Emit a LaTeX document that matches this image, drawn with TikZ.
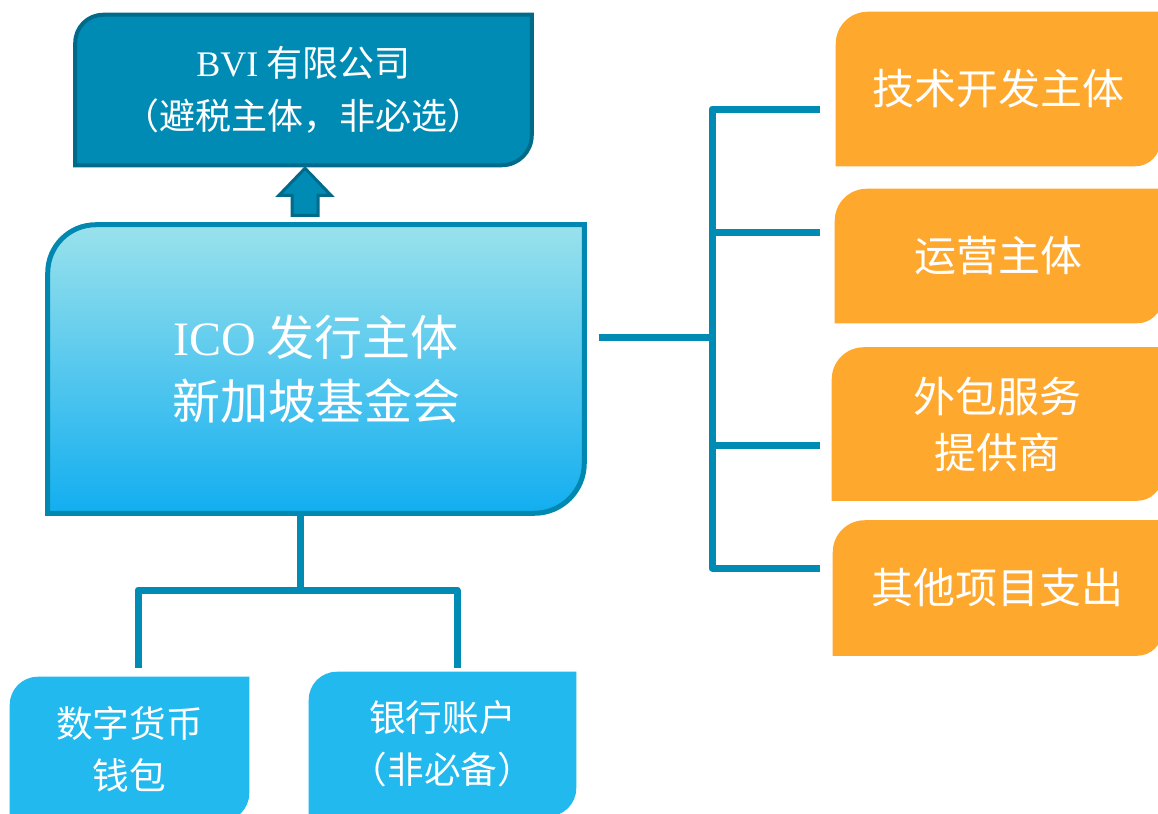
\documentclass[tikz,border=0pt]{standalone}
\usepackage{fontspec}
\setmainfont{Liberation Serif}
\newfontfamily\cjk{Noto Sans CJK SC}
\usepackage{tikz}
\usetikzlibrary{calc,backgrounds}
\definecolor{bvidark}{HTML}{006A8A}
\definecolor{tealline}{HTML}{008BB4}
\definecolor{icotop}{HTML}{9AE2EC}
\definecolor{icobot}{HTML}{12AEF0}
\definecolor{icoedge}{HTML}{0088B0}
\definecolor{costorange}{HTML}{FFA82E}
\definecolor{acctblue}{HTML}{21B9EE}

\newcommand\px{0.75pt}
% box with round top-left and bottom-right corners, drawn round a node
\newcommand\diagbox[4]{%
  \path[#4] (#1.south west) -- ([yshift=-#2*\px]#1.north west)
    arc[start angle=180, end angle=90, radius=#2*\px] -- (#1.north east)
    -- ([yshift=#3*\px]#1.south east)
    arc[start angle=0, end angle=-90, radius=#3*\px] -- cycle;}

\begin{document}
\begin{tikzpicture}[x=0.75pt, y=-0.75pt,
    boxtext/.style={inner sep=0pt, text=white, align=center},
    link/.style={draw=tealline, line width=5.25pt, line join=round},
    uparrow/.style={fill=tealline, draw=bvidark, line width=2.25pt},
]
\useasboundingbox (0,0) rectangle (1158,814);

\node[boxtext, font=\cjk\fontsize{27}{40}\selectfont,
      minimum width=456*\px, minimum height=150*\px] (bvi) at (303.5,90)
    {\textrm{BVI} 有限公司\\（避税主体，非必选）};
\node[boxtext, font=\cjk\fontsize{36}{48}\selectfont,
      minimum width=536*\px, minimum height=288*\px] (main) at (316,369)
    {\textrm{ICO} 发行主体\\新加坡基金会};

\node[boxtext, font=\cjk\fontsize{31.5}{42}\selectfont,
      minimum width=324*\px, minimum height=154*\px] (o1) at (998,89)
    {技术开发主体};
\node[boxtext, font=\cjk\fontsize{31.5}{42}\selectfont,
      minimum width=327*\px, minimum height=134*\px] (o2) at (998.5,256)
    {运营主体};
\node[boxtext, font=\cjk\fontsize{31.5}{42}\selectfont,
      minimum width=330*\px, minimum height=153*\px] (o3) at (997,424)
    {外包服务\\提供商};
\node[boxtext, font=\cjk\fontsize{31.5}{42}\selectfont,
      minimum width=329*\px, minimum height=135*\px] (o4) at (997.5,588)
    {其他项目支出};

\node[boxtext, font=\cjk\fontsize{27.5}{39}\selectfont,
      minimum width=239*\px, minimum height=144*\px] (b1) at (129.5,749)
    {数字货币\\钱包};
\node[boxtext, font=\cjk\fontsize{27.5}{39}\selectfont,
      minimum width=267*\px, minimum height=144*\px] (b2) at (442.5,744)
    {银行账户\\（非必备）};

\begin{pgfonlayer}{background}
\begin{scope}
  \clip (0,0) rectangle (1158,814);
  \diagbox{bvi}{28}{30}{fill=tealline, draw=bvidark, line width=3pt}
  \diagbox{main}{48}{50}{top color=icotop, bottom color=icobot,
                         draw=icoedge, line width=3.75pt}
  \diagbox{o1}{32}{25}{fill=costorange}
  \diagbox{o2}{32}{25}{fill=costorange}
  \diagbox{o3}{32}{25}{fill=costorange}
  \diagbox{o4}{32}{25}{fill=costorange}
  \diagbox{b1}{28}{28}{fill=acctblue}
  \diagbox{b2}{28}{28}{fill=acctblue}
\end{scope}
\end{pgfonlayer}

% block arrow up to the BVI company
\path[uparrow] ($(bvi.south)+(1.5,3)$) -- ++(26,27) -- ++(-13,0) -- ++(0,20)
    -- ++(-26,0) -- ++(0,-20) -- ++(-13,0) -- cycle;

% spending side
\coordinate (hub) at (712,337);
\coordinate (s1) at (712,109);
\coordinate (s2) at (712,232);
\coordinate (s3) at (712,445);
\coordinate (s4) at (712,568);
\draw[link] ([xshift=11pt]main.east |- hub) -- (hub);
\draw[link] ([xshift=-12pt]s1 -| o1.west) -- (s1) -- (s4)
    -- ([xshift=-9.75pt]s4 -| o4.west);
\draw[link] (s2) -- ([xshift=-11.25pt]s2 -| o2.west);
\draw[link] (s3) -- ([xshift=-9pt]s3 -| o3.west);

% accounts
\coordinate (fork) at (300,590);
\draw[link] (main.south -| fork) -- (fork);
\draw[link] ([xshift=6.4pt,yshift=6.75pt]b1.north) |- (fork)
    -| ([xshift=10.9pt,yshift=3pt]b2.north);
\end{tikzpicture}
\end{document}
